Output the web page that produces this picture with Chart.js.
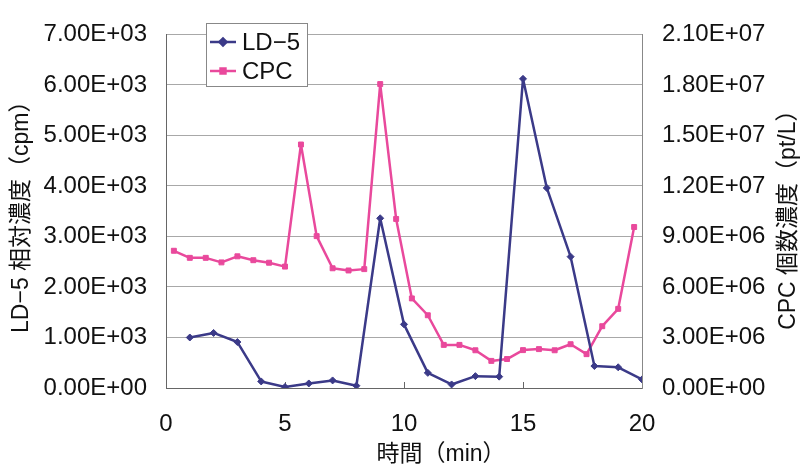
<!DOCTYPE html>
<html>
<head>
<meta charset="utf-8">
<script src="https://cdn.jsdelivr.net/npm/chart.js@4.4.1/dist/chart.umd.min.js"></script>
<style>
  html, body { margin: 0; padding: 0; background: #fff; }
  #wrap { width: 803px; height: 468px; }
</style>
</head>
<body>
<div id="wrap"><canvas id="conc-chart" width="803" height="468"></canvas></div>
<script>
// LD-5 relative concentration, sampled once a minute
const ldTime = [1, 2, 3, 4, 5, 6, 7, 8, 9, 10, 11, 12, 13, 14, 15, 16, 17, 18, 19, 20];
const ldCpm = [1000, 1090, 910, 130, 20, 90, 150, 45, 3360, 1260,
               300, 70, 235, 225, 6120, 3960, 2600, 435, 410, 170];

// CPC particle count, sampled every 40 s
const cpcTime = [0.33, 1, 1.67, 2.33, 3, 3.67, 4.33, 5, 5.67, 6.33,
                 7, 7.67, 8.33, 9, 9.67, 10.33, 11, 11.67, 12.33, 13,
                 13.67, 14.33, 15, 15.67, 16.33, 17, 17.67, 18.33, 19, 19.67];
const cpcCount = [8.15e6, 7.73e6, 7.73e6, 7.46e6, 7.82e6, 7.59e6, 7.44e6, 7.21e6, 14.46e6, 9.02e6,
                  7.11e6, 6.98e6, 7.06e6, 18.05e6, 10.04e6, 5.32e6, 4.32e6, 2.56e6, 2.56e6, 2.24e6,
                  1.61e6, 1.72e6, 2.25e6, 2.31e6, 2.24e6, 2.60e6, 2.01e6, 3.67e6, 4.70e6, 9.56e6];

const seriesNames = ['LD\u22125', 'CPC'];
const xTitle = '時間（min）';
const leftTitle = 'LD\u22125 相対濃度（cpm）';
const rightTitle = 'CPC 個数濃度（pt/L）';

const NAVY = '#3b3a88';
const PINK = '#e9499c';
const FONT = '"Liberation Sans", Arial, "Noto Sans CJK JP", sans-serif';

// 7000 -> "7.00E+03"
function sci(v) {
    const parts = Number(v).toExponential(2).split('e');
    const exp = parseInt(parts[1], 10);
    const sign = exp < 0 ? '-' : '+';
    return parts[0] + 'E' + sign + String(Math.abs(exp)).padStart(2, '0');
}

function toPoints(xs, ys) {
    return xs.map((x, i) => ({ x: x, y: ys[i] }));
}

// axis titles, inward x tick marks and the boxed legend inside the plot
const decorations = {
    id: 'decorations',
    beforeDatasetsDraw(chart) {
        const ctx = chart.ctx;
        const area = chart.chartArea;
        const xs = chart.scales.x;
        ctx.save();
        ctx.strokeStyle = '#666';
        ctx.lineWidth = 1;
        xs.ticks.forEach(t => {
            if (t.value <= xs.min || t.value >= xs.max) return;
            const px = Math.round(xs.getPixelForValue(t.value)) + 0.5;
            ctx.beginPath();
            ctx.moveTo(px, area.bottom);
            ctx.lineTo(px, area.bottom - 6);
            ctx.stroke();
        });
        ctx.restore();
    },
    afterDraw(chart) {
        const ctx = chart.ctx;
        const area = chart.chartArea;
        ctx.save();
        ctx.fillStyle = '#111';
        ctx.font = '23px ' + FONT;
        ctx.textAlign = 'center';
        ctx.textBaseline = 'middle';

        ctx.fillText(xTitle, 441, 455);

        ctx.save();
        ctx.translate(22, (area.top + area.bottom) / 2);
        ctx.rotate(-Math.PI / 2);
        ctx.fillText(leftTitle, 0, 0);
        ctx.restore();

        ctx.save();
        ctx.translate(789, (area.top + area.bottom) / 2 + 3);
        ctx.rotate(-Math.PI / 2);
        ctx.fillText(rightTitle, 0, 0);
        ctx.restore();

        // legend
        const bx = 206, by = 23, bw = 101, bh = 63;
        ctx.fillStyle = '#fff';
        ctx.fillRect(bx, by, bw, bh);
        ctx.strokeStyle = '#888';
        ctx.lineWidth = 1;
        ctx.strokeRect(bx + 0.5, by + 0.5, bw, bh);

        const rows = [
            { name: seriesNames[0], color: NAVY, style: 'rectRot', y: by + 19 },
            { name: seriesNames[1], color: PINK, style: 'rect', y: by + 48 }
        ];
        rows.forEach(r => {
            ctx.strokeStyle = r.color;
            ctx.lineWidth = 2.5;
            ctx.beginPath();
            ctx.moveTo(bx + 4, r.y);
            ctx.lineTo(bx + 30, r.y);
            ctx.stroke();
            Chart.helpers.drawPoint(ctx, { pointStyle: r.style, radius: 3.5, borderWidth: 1 }, bx + 17, r.y);
            ctx.fillStyle = r.color;
            ctx.fill();
            ctx.fillStyle = '#111';
            ctx.font = '24px ' + FONT;
            ctx.textAlign = 'left';
            ctx.fillText(r.name, bx + 36, r.y + 1);
        });
        ctx.restore();
    }
};

function renderChart() {
    const ctx = document.getElementById('conc-chart').getContext('2d');
    new Chart(ctx, {
        type: 'line',
        data: {
            datasets: [{
                label: seriesNames[0],
                data: toPoints(ldTime, ldCpm),
                yAxisID: 'yLeft',
                borderColor: NAVY,
                backgroundColor: NAVY,
                borderWidth: 2.5,
                borderJoinStyle: 'round',
                pointStyle: 'rectRot',
                pointRadius: 3.5,
                pointBorderWidth: 1,
                tension: 0
            }, {
                label: seriesNames[1],
                data: toPoints(cpcTime, cpcCount),
                yAxisID: 'yRight',
                borderColor: PINK,
                backgroundColor: PINK,
                borderWidth: 2.5,
                borderJoinStyle: 'round',
                pointStyle: 'rect',
                pointRadius: 3.5,
                pointBorderWidth: 1,
                tension: 0
            }]
        },
        options: {
            responsive: false,
            animation: false,
            layout: { padding: { top: 22, bottom: 0, left: 0, right: 0 } },
            plugins: { legend: { display: false }, tooltip: { enabled: false } },
            scales: {
                x: {
                    type: 'linear',
                    min: 0,
                    max: 20,
                    ticks: { stepSize: 5, color: '#111', padding: 22, font: { family: FONT, size: 24 } },
                    grid: { display: false, drawTicks: false },
                    border: { display: true, color: '#666', width: 1 },
                    afterFit(scale) { scale.height = 80; }
                },
                yLeft: {
                    position: 'left',
                    min: 0,
                    max: 7000,
                    ticks: { stepSize: 1000, color: '#111', padding: 19, callback: sci, font: { family: FONT, size: 24 } },
                    grid: { color: '#a8a8a8', lineWidth: 1, drawTicks: false },
                    border: { display: true, color: '#666', width: 1 },
                    afterFit(scale) { scale.width = 166; }
                },
                yRight: {
                    position: 'right',
                    min: 0,
                    max: 2.1e7,
                    ticks: { stepSize: 3e6, color: '#111', padding: 20, callback: sci, font: { family: FONT, size: 24 } },
                    grid: { drawOnChartArea: false, drawTicks: false },
                    border: { display: true, color: '#888', width: 1 },
                    afterFit(scale) { scale.width = 161; }
                }
            }
        },
        plugins: [decorations]
    });
}

document.addEventListener('DOMContentLoaded', function() {
    renderChart();
});
</script>
</body>
</html>
